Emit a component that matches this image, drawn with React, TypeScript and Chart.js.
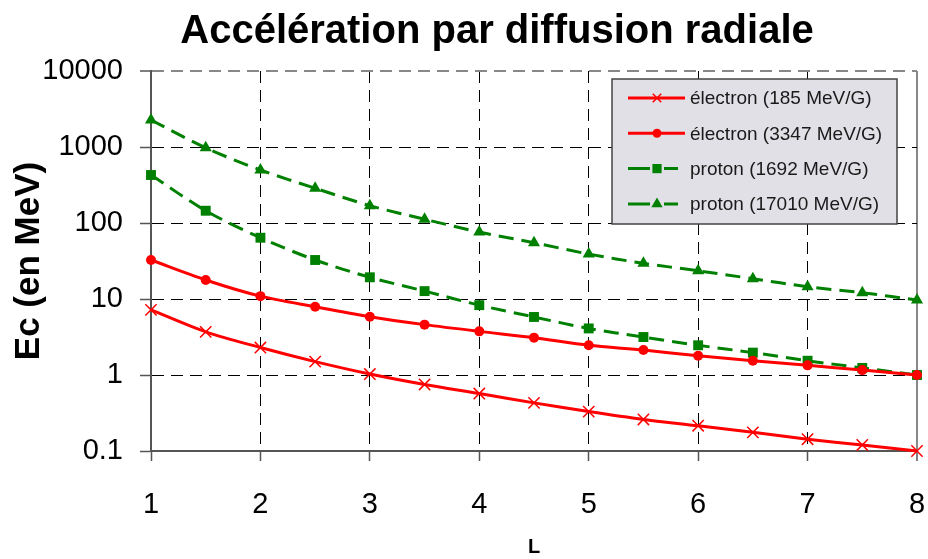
import React, { useEffect, useRef } from 'react';
import { Chart, registerables } from 'chart.js';

Chart.register(...registerables);

const TITLE = 'Accélération par diffusion radiale';
const X_TITLE = 'L';
const Y_TITLE = 'Ec (en MeV)';

const L_VALUES = [1, 1.5, 2, 2.5, 3, 3.5, 4, 4.5, 5, 5.5, 6, 6.5, 7, 7.5, 8];
const X_TICKS = [1, 2, 3, 4, 5, 6, 7, 8];
const Y_TICKS = [0.1, 1, 10, 100, 1000, 10000];
const Y_TICK_LABELS = ['0.1', '1', '10', '100', '1000', '10000'];

const SERIES_NAMES = [
  'électron (185 MeV/G)',
  'électron (3347 MeV/G)',
  'proton (1692 MeV/G)',
  'proton (17010 MeV/G)',
];

const electron185 = [7.2, 3.7, 2.3, 1.5, 1.03, 0.75, 0.57, 0.43, 0.33, 0.26, 0.215, 0.176, 0.143, 0.12, 0.1];
const electron3347 = [32.6, 17.8, 10.9, 7.9, 5.85, 4.6, 3.75, 3.1, 2.46, 2.13, 1.79, 1.54, 1.34, 1.16, 1.0];
const proton1692 = [428, 145, 64, 32.6, 19.3, 12.7, 8.3, 5.8, 4.1, 3.16, 2.46, 1.97, 1.54, 1.24, 1.0];
const proton17010 = [2265, 975, 498, 287, 169, 112, 76, 55, 39, 29.5, 23.5, 18.5, 14.5, 12.1, 9.7];

const RED = '#ff0000';
const GREEN = '#008000';
const FONT = "'Liberation Sans', Arial, Helvetica, sans-serif";

function drawMarker(ctx: CanvasRenderingContext2D, style: string, x: number, y: number, r: number, color: string) {
  ctx.save();
  ctx.setLineDash([]);
  ctx.fillStyle = color;
  ctx.strokeStyle = color;
  ctx.lineWidth = 1.5;
  ctx.beginPath();
  if (style === 'crossRot') {
    const d = r * 0.7071;
    ctx.moveTo(x - d, y - d);
    ctx.lineTo(x + d, y + d);
    ctx.moveTo(x + d, y - d);
    ctx.lineTo(x - d, y + d);
    ctx.stroke();
  } else if (style === 'circle') {
    ctx.arc(x, y, r, 0, Math.PI * 2);
    ctx.fill();
  } else if (style === 'rect') {
    const h = r * 0.7071;
    ctx.rect(x - h, y - h, 2 * h, 2 * h);
    ctx.fill();
  } else if (style === 'triangle') {
    for (let k = 0; k < 3; k++) {
      const a = -Math.PI / 2 + (k * 2 * Math.PI) / 3;
      const px = x + Math.cos(a) * r;
      const py = y + Math.sin(a) * r;
      if (k === 0) ctx.moveTo(px, py);
      else ctx.lineTo(px, py);
    }
    ctx.closePath();
    ctx.fill();
  }
  ctx.restore();
}

const titlePlugin = {
  id: 'fixedTitle',
  afterDraw(chart: any) {
    const ctx = chart.ctx as CanvasRenderingContext2D;
    ctx.save();
    ctx.font = `bold 40px ${FONT}`;
    ctx.fillStyle = '#000';
    ctx.textAlign = 'center';
    ctx.textBaseline = 'alphabetic';
    ctx.fillText(TITLE, 497, 43);
    ctx.restore();
  },
};

const legendPlugin = {
  id: 'boxLegend',
  afterDraw(chart: any) {
    const ctx = chart.ctx as CanvasRenderingContext2D;
    const bx = 612, by = 79, bw = 285, bh = 145;
    ctx.save();
    ctx.fillStyle = '#e0e0e6';
    ctx.fillRect(bx, by, bw, bh);
    ctx.strokeStyle = '#444';
    ctx.lineWidth = 1.5;
    ctx.setLineDash([]);
    ctx.strokeRect(bx, by, bw, bh);
    const rowH = 35.3;
    chart.data.datasets.forEach((ds: any, i: number) => {
      const y = by + 19 + i * rowH;
      const dashed = ds.borderDash && ds.borderDash.length > 0;
      ctx.save();
      ctx.strokeStyle = ds.borderColor;
      ctx.lineWidth = 3;
      ctx.beginPath();
      if (dashed) {
        ctx.moveTo(628, y); ctx.lineTo(650, y);
        ctx.moveTo(664, y); ctx.lineTo(678, y);
      } else {
        ctx.moveTo(628, y); ctx.lineTo(685, y);
      }
      ctx.stroke();
      ctx.restore();
      const mr = ds.pointStyle === 'circle' ? 4.5 : ds.pointStyle === 'crossRot' ? 6 : 6.5;
      drawMarker(ctx, ds.pointStyle, 657, y, mr, ds.borderColor);
      ctx.fillStyle = '#1a1a1a';
      ctx.font = `19px ${FONT}`;
      ctx.textAlign = 'left';
      ctx.textBaseline = 'middle';
      ctx.fillText(ds.label, 690, y + 1);
    });
    ctx.restore();
  },
};

export default function App() {
  const canvasRef = useRef<HTMLCanvasElement | null>(null);

  useEffect(() => {
    document.body.style.margin = '0';
    const canvas = canvasRef.current;
    if (!canvas) return;
    const mk = (arr: number[]) => L_VALUES.map((l, i) => ({ x: l, y: arr[i] }));
    const chart = new Chart(canvas, {
      type: 'line',
      data: {
        datasets: [
          {
            label: SERIES_NAMES[0],
            data: mk(electron185),
            borderColor: RED,
            backgroundColor: RED,
            borderWidth: 3,
            pointStyle: 'crossRot',
            pointRadius: 8,
            pointBorderWidth: 1.5,
            tension: 0.3,
            clip: false,
          },
          {
            label: SERIES_NAMES[1],
            data: mk(electron3347),
            borderColor: RED,
            backgroundColor: RED,
            borderWidth: 3,
            pointStyle: 'circle',
            pointRadius: 5,
            pointBorderWidth: 0,
            tension: 0.3,
            clip: false,
          },
          {
            label: SERIES_NAMES[2],
            data: mk(proton1692),
            borderColor: GREEN,
            backgroundColor: GREEN,
            borderWidth: 3,
            borderDash: [15, 8],
            pointStyle: 'rect',
            pointRadius: 7,
            pointBorderWidth: 0,
            tension: 0.3,
            clip: false,
          },
          {
            label: SERIES_NAMES[3],
            data: mk(proton17010),
            borderColor: GREEN,
            backgroundColor: GREEN,
            borderWidth: 3,
            borderDash: [15, 8],
            pointStyle: 'triangle',
            pointRadius: 7,
            pointBorderWidth: 0,
            tension: 0.3,
            clip: false,
          },
        ] as any,
      },
      options: {
        responsive: false,
        animation: false,
        devicePixelRatio: 1,
        layout: { padding: { top: 71, right: 11, bottom: 0, left: 0 } },
        plugins: {
          legend: { display: false },
          title: { display: false },
          tooltip: { enabled: false },
        },
        events: [],
        scales: {
          x: {
            type: 'linear',
            min: 1,
            max: 8,
            afterBuildTicks: (s: any) => {
              s.ticks = X_TICKS.map((v) => ({ value: v }));
            },
            afterFit: (s: any) => {
              s.height = 108;
              s.paddingLeft = 0;
              s.paddingRight = 0;
            },
            ticks: {
              autoSkip: false,
              maxRotation: 0,
              padding: 27,
              color: '#000',
              font: { family: FONT, size: 29 },
              callback: (v: any) => String(v),
            },
            grid: {
              color: (c: any) => (c.tick && c.tick.value === 8 ? '#888' : '#000'),
              lineWidth: (c: any) => (c.tick && c.tick.value === 8 ? 2 : 1),
              drawTicks: true,
              tickLength: 10,
              tickColor: '#555',
              tickWidth: 1.5,
              tickBorderDash: [],
            },
            border: {
              display: true,
              color: '#555',
              width: 2,
              dash: (c: any) => (c.tick && c.tick.value === 8 ? [] : [12, 7]),
            },
            title: {
              display: true,
              text: X_TITLE,
              color: '#000',
              font: { family: FONT, size: 20, weight: 'bold' },
              padding: { top: 0, bottom: 0 },
            },
          },
          y: {
            type: 'logarithmic',
            min: 0.1,
            max: 10000,
            afterBuildTicks: (s: any) => {
              s.ticks = Y_TICKS.map((v) => ({ value: v }));
            },
            afterFit: (s: any) => {
              s.width = 151;
              s.paddingTop = 0;
              s.paddingBottom = 0;
            },
            ticks: {
              autoSkip: false,
              padding: 17,
              color: '#000',
              font: { family: FONT, size: 29 },
              callback: (v: any) => {
                const idx = Y_TICKS.findIndex((t) => Math.abs(t - v) / t < 1e-6);
                return idx >= 0 ? Y_TICK_LABELS[idx] : '';
              },
            },
            grid: {
              color: (c: any) => (c.tick && c.tick.value === 10000 ? '#888' : '#000'),
              lineWidth: (c: any) => (c.tick && c.tick.value === 10000 ? 2 : 1),
              drawTicks: true,
              tickLength: 11,
              tickColor: '#555',
              tickWidth: 1.5,
              tickBorderDash: [],
            },
            border: {
              display: true,
              color: '#555',
              width: 2,
              dash: [12, 7],
            },
            title: {
              display: true,
              text: Y_TITLE,
              color: '#000',
              font: { family: FONT, size: 35, weight: 'bold' },
              padding: { top: 8, bottom: 0 },
            },
          },
        },
      } as any,
      plugins: [titlePlugin, legendPlugin],
    });
    return () => chart.destroy();
  }, []);

  return (
    <div style={{ position: 'fixed', left: 0, top: 0, width: 928, height: 559, background: '#fff' }}>
      <canvas ref={canvasRef} width={928} height={559} style={{ width: 928, height: 559, display: 'block' }} />
    </div>
  );
}
